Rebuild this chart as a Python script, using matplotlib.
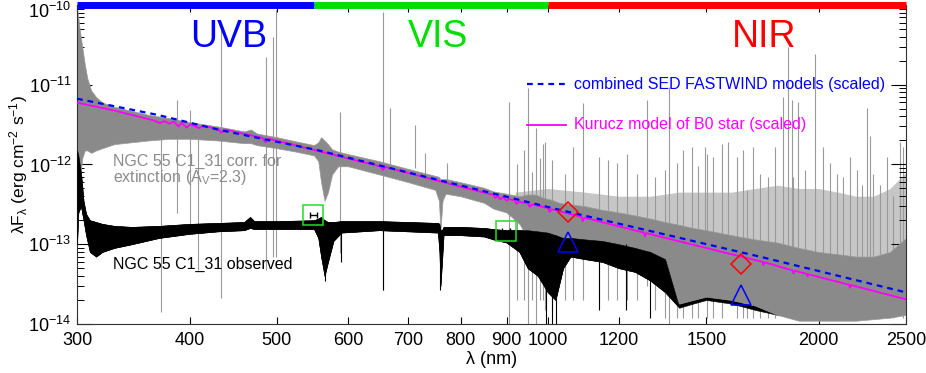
import matplotlib
matplotlib.use("Agg")
import matplotlib.pyplot as plt
import matplotlib.transforms as mtransforms
from matplotlib.ticker import FixedLocator, NullLocator, LogLocator, NullFormatter

plt.rcParams['font.family'] = ['Liberation Sans', 'DejaVu Sans']
plt.rcParams['mathtext.fontset'] = 'custom'
plt.rcParams['mathtext.rm'] = 'Liberation Sans'
plt.rcParams['mathtext.default'] = 'regular'

# ---------------- data ----------------
# FASTWIND combined SED (dashed blue)
fw_wl = [300, 369, 432, 554, 1021, 1721, 2500]
fw_flux = [6.68e-12, 4.18e-12, 2.71e-12, 1.52e-12, 2.77e-13, 6.98e-14, 2.49e-14]

# Kurucz B0 model (magenta)
kz_wl = [300, 330, 364, 371, 375, 380, 384, 389, 392, 397, 401, 410, 414, 430, 434, 438,
         482, 486, 490, 554, 600, 652, 656, 660, 800, 870, 875, 880, 886, 892, 901, 906,
         920, 923, 928, 950, 955, 960, 1000, 1005, 1010, 1090, 1094, 1098, 1278, 1282, 1286,
         1732, 1736, 1740, 1870, 1875, 1880, 1940, 1944, 1948, 2162, 2166, 2170, 2500]
kz_flux = [5.96e-12, 4.75e-12, 3.6e-12, 3.3e-12, 3.5e-12, 3.25e-12, 3.45e-12, 3.0e-12, 3.35e-12,
           2.9e-12, 3.2e-12, 2.85e-12, 3.05e-12, 2.8e-12, 2.5e-12, 2.75e-12,
           2.15e-12, 1.9e-12, 2.1e-12, 1.49e-12, 1.19e-12, 9.45e-13, 8.5e-13, 9.3e-13, 5.26e-13,
           4.15e-13, 3.8e-13, 4.05e-13, 3.65e-13, 3.9e-13, 3.5e-13, 3.7e-13,
           3.5e-13, 3.2e-13, 3.4e-13, 3.25e-13, 2.95e-13, 3.15e-13, 2.85e-13, 2.55e-13, 2.75e-13,
           2.2e-13, 1.95e-13, 2.15e-13, 1.4e-13, 1.25e-13, 1.38e-13,
           6.0e-14, 5.5e-14, 5.95e-14, 4.7e-14, 4.3e-14, 4.65e-14, 4.25e-14, 3.95e-14, 4.2e-14,
           3.1e-14, 2.85e-14, 3.08e-14, 2.04e-14]

# extinction-corrected spectrum: dense core band
cor_wl = [300, 301, 302, 304, 306, 308, 311, 315, 320, 330, 345, 360, 380, 400, 430, 460, 468,
          475, 500, 525, 550, 556, 560, 565, 570, 576, 585, 600, 650, 700, 750, 757, 760, 764,
          770, 800, 850, 870, 900, 930, 950, 970, 990, 1010, 1030, 1050, 1100, 1150, 1200,
          1250, 1300, 1350, 1400, 1450, 1500, 1600, 1700, 1800, 1900, 2000, 2100, 2200, 2300,
          2400, 2500]
cor_lo = [1.5e-13, 3e-13, 6e-13, 1.2e-12, 1.5e-12, 1.5e-12, 1.4e-12, 1.5e-12, 1.6e-12, 1.8e-12,
          1.9e-12, 2.0e-12, 2.1e-12, 2.1e-12, 2.0e-12, 1.85e-12, 1.85e-12, 1.75e-12, 1.6e-12,
          1.45e-12, 1.3e-12, 1.1e-12, 6e-13, 3.5e-13, 4.5e-13, 7.5e-13, 9.5e-13, 9.5e-13, 7.5e-13,
          6.0e-13, 4.8e-13, 3.5e-13, 1.5e-13, 3.5e-13, 4.3e-13, 4.0e-13, 3.3e-13, 2.8e-13,
          2.5e-13, 1.8e-13, 1.2e-13, 8e-14, 6e-14, 5e-14, 8e-14, 1.0e-13, 9e-14, 7e-14, 6e-14,
          5e-14, 4e-14, 2.5e-14, 1.8e-14, 2.0e-14, 2.2e-14, 2.0e-14, 1.7e-14, 1.3e-14, 1.1e-14,
          1.1e-14, 1.1e-14, 1.1e-14, 1.15e-14, 1.2e-14, 1.3e-14]
cor_hi = [9.0e-11, 7e-11, 5e-11, 3e-11, 1.8e-11, 1.2e-11, 8.5e-12, 7.0e-12, 6.0e-12, 5.3e-12,
          4.7e-12, 4.2e-12, 3.8e-12, 3.4e-12, 3.0e-12, 2.6e-12, 2.75e-12, 2.45e-12, 2.2e-12,
          1.95e-12, 1.75e-12, 1.9e-12, 2.2e-12, 2.0e-12, 1.8e-12, 1.55e-12, 1.45e-12, 1.35e-12,
          1.1e-12, 8.8e-13, 7.2e-13, 7e-13, 6.5e-13, 6.5e-13, 6.6e-13, 6.0e-13, 5.1e-13,
          4.6e-13, 4.3e-13, 4.0e-13, 4.2e-13, 4.2e-13, 3.8e-13, 3.6e-13, 3.3e-13, 3.2e-13,
          3.0e-13, 2.7e-13, 2.5e-13, 2.3e-13, 2.1e-13, 1.9e-13, 1.75e-13, 1.6e-13, 1.5e-13,
          1.3e-13, 1.15e-13, 1.05e-13, 9e-14, 8e-14, 7.5e-14, 7e-14, 7e-14, 8e-14, 1.2e-13]

# extinction-corrected spectrum: sparse (striped) upper envelope in the NIR
env_wl = [920, 1000, 1100, 1200, 1300, 1400, 1500, 1600, 1700, 1800, 1900, 2000, 2100,
          2200, 2300, 2400, 2500]
env_lo = [3.0e-13, 2.5e-13, 2.2e-13, 1.8e-13, 1.5e-13, 1.3e-13, 1.2e-13, 1.1e-13, 1.0e-13,
          9e-14, 8e-14, 7e-14, 6.5e-14, 6e-14, 6e-14, 7e-14, 1.0e-13]
env_hi = [4.5e-13, 5e-13, 4.5e-13, 4e-13, 4e-13, 4.5e-13, 4.5e-13, 4.5e-13, 5e-13, 5.5e-13,
          5e-13, 5e-13, 4.5e-13, 4e-13, 4e-13, 5e-13, 8e-13]

# observed spectrum (black band)
obs_wl = [300, 301, 303, 305, 307, 310, 315, 320, 330, 345, 370, 400, 430, 460, 467, 472, 500,
          550, 556, 560, 565, 570, 578, 590, 650, 700, 755, 758, 760, 763, 766, 800, 850, 870,
          900, 930, 950, 975, 1000, 1020, 1040, 1060, 1100, 1150, 1200, 1250, 1300, 1350,
          1400, 1450, 1500, 1600, 1700, 1800, 1900, 2000, 2100, 2200, 2300, 2400, 2500]
obs_lo = [1.0e-13, 2.5e-13, 3e-13, 2.0e-13, 1.3e-13, 8e-14, 7e-14, 8e-14, 9e-14, 1.0e-13,
          1.2e-13, 1.35e-13, 1.45e-13, 1.5e-13, 1.6e-13, 1.55e-13, 1.55e-13, 1.55e-13, 1.2e-13,
          7e-14, 4e-14, 6e-14, 1.1e-13, 1.4e-13, 1.5e-13, 1.45e-13, 1.4e-13, 8e-14, 3e-14,
          6e-14, 1.3e-13, 1.3e-13, 1.25e-13, 1.15e-13, 1.05e-13, 8e-14, 5e-14, 4e-14, 2.5e-14,
          2.0e-14, 5e-14, 7e-14, 6.5e-14, 6e-14, 5e-14, 4.5e-14, 3.5e-14, 2.5e-14, 1.6e-14,
          1.8e-14, 2.0e-14, 1.8e-14, 1.5e-14, 1.3e-14, 1.3e-14, 1.3e-14, 1.3e-14, 1.3e-14,
          1.3e-14, 1.3e-14, 1.4e-14]
obs_hi = [1.5e-12, 1.3e-12, 8e-13, 3.5e-13, 2.4e-13, 2.0e-13, 1.9e-13, 1.8e-13, 1.7e-13,
          1.65e-13, 1.7e-13, 1.8e-13, 1.85e-13, 1.9e-13, 2.2e-13, 1.95e-13, 1.95e-13, 2.0e-13,
          2.1e-13, 2.2e-13, 2.0e-13, 1.9e-13, 1.9e-13, 1.95e-13, 1.95e-13, 1.9e-13, 1.85e-13,
          1.8e-13, 1.5e-13, 1.5e-13, 1.65e-13, 1.65e-13, 1.6e-13, 1.55e-13, 1.5e-13, 1.5e-13,
          1.5e-13, 1.45e-13, 1.4e-13, 1.3e-13, 1.2e-13, 1.2e-13, 1.15e-13, 1.1e-13, 1.0e-13,
          9e-14, 8e-14, 6.5e-14, 5e-14, 5e-14, 4.5e-14, 4e-14, 3.5e-14, 3e-14, 2.6e-14, 2.4e-14,
          2.2e-14, 2.0e-14, 2.0e-14, 2.2e-14, 2.5e-14]
obs_front_limit = 1350  # beyond this the observed spectrum is mostly hidden by the corrected one

# spikes in the corrected spectrum (wavelength, bottom, top)
spk_wl = [372, 387, 400, 409, 434, 486, 495, 499, 588, 656, 668, 712, 731, 773, 906, 925, 940,
          951, 960, 970, 980, 989, 993, 1010, 1045, 1068, 1095, 1141, 1168, 1195, 1224, 1256,
          1289, 1316, 1350, 1364, 1391, 1415, 1445, 1470, 1495, 1502, 1527, 1560, 1586, 1621,
          1649, 1664, 1692, 1721, 1758, 1788, 1825, 1849, 1868, 1874, 1897, 1931, 1981, 2024,
          2059, 2094, 2130, 2166, 2204, 2232, 2263, 2280, 2300, 2339, 2380, 2420, 2462, 2483]
spk_lo = [1.4e-14, 2.5e-13, 1.5e-13, 4.8e-14, 2.1e-14, 4.8e-14, 7e-14, 7e-14, 7.8e-14,
          2.7e-14, 1.0e-12, 9e-13, 6e-13, 5e-13, 1.0e-14, 2e-14, 2e-14, 1.0e-14, 2e-14,
          1.0e-14, 2e-14, 2e-14, 1.5e-14, 1.5e-14, 2e-14, 2e-14, 2e-14, 2e-14, 2e-14, 2e-14,
          2e-14, 2e-14, 3e-14, 1.5e-14, 1.2e-14, 1.0e-14, 1.2e-14, 1.2e-14, 1.2e-14, 1.2e-14,
          2e-14, 1.2e-14, 1.2e-14, 1.2e-14, 2e-14, 1.2e-14, 1.2e-14, 1.2e-14, 1.2e-14,
          1.2e-14, 1.2e-14, 1.2e-14, 1.5e-14, 1.5e-14, 1.5e-14, 1.2e-14, 1.5e-14, 1.2e-14,
          1.5e-14, 1.2e-14, 1.2e-14, 1.2e-14, 1.2e-14, 1.2e-14, 1.2e-14, 1.2e-14, 1.5e-14,
          1.5e-14, 1.2e-14, 1.2e-14, 1.2e-14, 1.2e-14, 1.5e-14, 1.2e-14]
spk_hi = [3.6e-12, 6.4e-12, 4.8e-12, 2.5e-12, 5.9e-11, 2.2e-11, 4.0e-11, 8.6e-11, 4.55e-12,
          8.2e-11, 5.1e-12, 3.1e-12, 1.4e-12, 1.04e-12, 6.1e-12, 1.0e-12, 1.5e-12, 9.1e-12,
          8e-13, 2.9e-12, 1.2e-12, 1.83e-12, 1.9e-12, 1.13e-12, 7.7e-13, 1.67e-12, 5.9e-12,
          1.25e-12, 1.13e-12, 1.03e-12, 1.37e-12, 7.7e-13, 6.4e-12, 7.0e-13, 8.5e-13, 9.4e-12,
          1.03e-12, 1.52e-12, 1.67e-12, 9.5e-13, 1.66e-12, 1.37e-12, 1.25e-12, 1.83e-12,
          1.9e-12, 1.25e-12, 1.52e-12, 4.8e-13, 1.67e-12, 7.7e-13, 7.0e-13, 1.67e-12, 7.0e-12,
          3.0e-11, 6.4e-12, 7.0e-13, 6.1e-12, 8.5e-13, 2.4e-11, 1.67e-12, 1.03e-12, 7.7e-13,
          7.0e-13, 1.25e-12, 8.5e-13, 5.6e-13, 5.1e-12, 2.3e-12, 7.7e-13, 5.6e-13, 1.25e-12,
          4.0e-13, 1.9e-12, 1.67e-12]

# absorption spikes in the observed spectrum
ospk_wl = [566, 589, 656, 760, 995, 1010, 1020, 1140, 1220, 1300]
ospk_lo = [3.5e-14, 6e-14, 2.7e-14, 2.7e-14, 1.0e-14, 1.0e-14, 1.0e-14, 1.5e-14, 1.5e-14, 1.2e-14]
ospk_hi = [2.0e-13, 1.8e-13, 1.9e-13, 1.6e-13, 1.4e-13, 1.3e-13, 1.3e-13, 1.1e-13, 1.0e-13, 8e-14]

# photometry
phot_u_wl = [549, 899]
phot_u_flux = [2.33e-13, 1.47e-13]
phot_u_xerr = [5, 10]
phot_j_wl = [1054, 1639]
phot_j_flux = [2.56e-13, 5.65e-14]
phot_t_wl = [1054, 1639]
phot_t_flux = [1.07e-13, 2.31e-14]

# X-shooter arms
arm_edges = [300, 550, 1000, 2500]
arm_names = ['UVB', 'VIS', 'NIR']
arm_colors = ['#0000ff', '#00e000', '#ff0000']

xticks = [300, 400, 500, 600, 700, 800, 900, 1000, 1200, 1500, 2000, 2500]
yticks = [1e-14, 1e-13, 1e-12, 1e-11, 1e-10]
ytick_labels = ['10$^{-14}$', '10$^{-13}$', '10$^{-12}$', '10$^{-11}$', '10$^{-10}$']

# ---------------- figure ----------------
fig = plt.figure(figsize=(9.26, 3.73), dpi=100)
ax = fig.add_axes([0.0832, 0.1314, 0.8952, 0.8552])
ax.set_xscale('log')
ax.set_yscale('log')
ax.set_xlim(300, 2500)
ax.set_ylim(1e-14, 1e-10)

# observed spectrum, NIR part behind the corrected spectrum
ax.fill_between(obs_wl, obs_lo, obs_hi, color='black', lw=0.4, zorder=1.8)
# corrected spectrum
ax.fill_between(env_wl, env_lo, env_hi, color='#c6c6c6', lw=0, zorder=1)
ax.vlines(spk_wl, spk_lo, spk_hi, color='#9a9a9a', lw=0.8, zorder=1.5)
ax.fill_between(cor_wl, cor_lo, cor_hi, color='#8a8a8a', lw=0.5, edgecolor='#9a9a9a', zorder=2)
# observed spectrum, in front
ax.fill_between(obs_wl, obs_lo, obs_hi, where=[w <= obs_front_limit for w in obs_wl],
                interpolate=True, color='black', lw=0.4, zorder=3)
ax.vlines(ospk_wl, ospk_lo, ospk_hi, color='black', lw=0.8, zorder=3)

# models
ax.plot(kz_wl, kz_flux, color='#ff00ff', lw=1.3, zorder=5)
ax.plot(fw_wl, fw_flux, color='#0000ff', lw=1.6, ls=(0, (2.6, 2.2)), zorder=6)

# photometry
ax.plot(phot_u_wl, phot_u_flux, ls='none', marker='s', ms=15, mfc='none', mec='#22dd22',
        mew=1.1, zorder=7)
ax.errorbar(phot_u_wl, phot_u_flux, xerr=phot_u_xerr, fmt='none', ecolor='black',
            elinewidth=1.0, capsize=2.5, zorder=7)
ax.plot(phot_j_wl, phot_j_flux, ls='none', marker='D', ms=10, mfc='none', mec='#ff0000',
        mew=1.1, zorder=7)
ax.plot(phot_t_wl, phot_t_flux, ls='none', marker='^', ms=14, mfc='none', mec='#0000ff',
        mew=1.1, zorder=7)

# top arm bar
for i in range(3):
    ax.plot(arm_edges[i:i + 2], [yticks[-1], yticks[-1]], color=arm_colors[i], lw=5,
            solid_capstyle='butt', clip_on=False, zorder=20)

for name, col, xa in zip(arm_names, arm_colors, [0.1834, 0.4355, 0.8293]):
    ax.text(xa, 0.8683, name, transform=ax.transAxes, color=col,
            fontsize=27, ha='center', va='baseline')

# legend-like annotations
ax.plot([0.5428, 0.5899], [0.7508, 0.7508], transform=ax.transAxes, color='#0000ff',
        lw=1.6, ls=(0, (2.6, 2.2)))
ax.text(0.5995, 0.7357, 'combined SED FASTWIND models (scaled)', transform=ax.transAxes,
        color='#0000ff', fontsize=11.5, va='baseline')
ax.plot([0.5428, 0.5899], [0.6238, 0.6238], transform=ax.transAxes, color='#ff00ff', lw=1.3)
ax.text(0.5995, 0.6103, 'Kurucz model of B0 star (scaled)', transform=ax.transAxes,
        color='#ff00ff', fontsize=11.5, va='baseline')

ax.text(0.0438, 0.4953, 'NGC 55 C1_31 corr. for', transform=ax.transAxes,
        color='#8c8c8c', fontsize=11.5, va='baseline')
ax.text(0.0438, 0.4461, 'extinction (A$_V$=2.3)', transform=ax.transAxes,
        color='#8c8c8c', fontsize=11.5, va='baseline')
ax.text(0.0438, 0.1715, 'NGC 55 C1_31 observed', transform=ax.transAxes,
        color='black', fontsize=11.5, va='baseline')

# axes formatting
ax.xaxis.set_major_locator(FixedLocator(xticks))
ax.xaxis.set_minor_locator(NullLocator())
ax.set_xticklabels([str(t) for t in xticks])
ax.yaxis.set_major_locator(FixedLocator(yticks))
ax.set_yticklabels(ytick_labels)
ax.yaxis.set_minor_locator(LogLocator(base=10, subs=[2, 3, 4, 5, 6, 7, 8, 9], numticks=20))
ax.yaxis.set_minor_formatter(NullFormatter())
ax.tick_params(axis='x', which='major', direction='in', top=True, bottom=True, length=5,
               width=0.8, labelsize=13, pad=6)
ax.tick_params(axis='y', which='major', direction='in', left=True, right=True, length=11,
               width=0.8, labelsize=13, pad=4)
ax.tick_params(axis='y', which='minor', direction='in', left=True, right=True, length=5,
               width=0.7)
for s in ax.spines.values():
    s.set_linewidth(0.8)
    s.set_color('#333333')

# shift the top y label down a little so it stays inside the figure
fig.canvas.draw()
top_lab = ax.get_yticklabels()[-1]
top_lab.set_transform(top_lab.get_transform() +
                      mtransforms.ScaledTranslation(0, -5 / 100, fig.dpi_scale_trans))

ax.set_xlabel('λ (nm)', fontsize=13, labelpad=1)
ax.set_ylabel('λF$_{λ}$ (erg cm$^{-2}$ s$^{-1}$)', fontsize=12.5)
ax.yaxis.set_label_coords(-0.057, 0.5)

fig.savefig('out.png', dpi=100)
